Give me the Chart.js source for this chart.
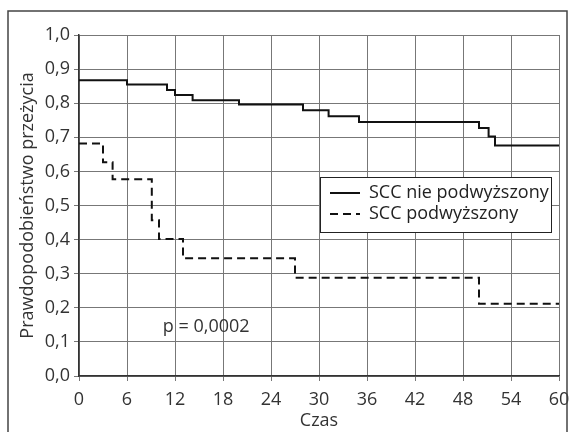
<!DOCTYPE html>
<html lang="pl">
<head>
<meta charset="UTF-8">
<title>Krzywe przeżycia</title>
<script src="https://cdn.jsdelivr.net/npm/chart.js"></script>
<style>
  html, body { margin: 0; padding: 0; background: #fff; }
  #wrap { width: 573px; height: 432px; position: relative; }
</style>
</head>
<body>
<div id="wrap"><canvas id="survChart" width="573" height="432"></canvas></div>
<script>
  // czas (miesiące) i prawdopodobieństwo przeżycia
  const timeNormal = [0, 6, 11, 12, 14.2, 20, 28, 31.2, 35, 50, 51.2, 52, 60];
  const survNormal = [0.867, 0.855, 0.839, 0.824, 0.809, 0.796, 0.779, 0.762, 0.745, 0.727, 0.702, 0.676, 0.676];
  const timeHigh = [0, 3, 4.2, 9.1, 10, 13, 27, 50, 60];
  const survHigh = [0.682, 0.627, 0.577, 0.457, 0.402, 0.345, 0.288, 0.212, 0.212];
  const xTicks = [0, 6, 12, 18, 24, 30, 36, 42, 48, 54, 60];
  const yTicks = [0, 0.1, 0.2, 0.3, 0.4, 0.5, 0.6, 0.7, 0.8, 0.9, 1.0];
  const labels = ['SCC nie podwyższony', 'SCC podwyższony'];
  const pText = 'p = 0,0002';

  const FONT = '"Open Sans", "Noto Sans", sans-serif';
  const FS = 18;
  const toPts = (t, s) => t.map((v, i) => ({ x: v, y: s[i] }));

  // ramka, legenda w polu wykresu i tekst p
  const extras = {
    id: 'extras',
    afterDraw(chart) {
      const ctx = chart.ctx;
      const xs = chart.scales.x, ys = chart.scales.y;
      ctx.save();
      // zewnętrzna ramka
      ctx.strokeStyle = '#444';
      ctx.lineWidth = 1.5;
      ctx.beginPath();
      ctx.moveTo(8, 445); ctx.lineTo(8, 11); ctx.lineTo(567, 11); ctx.lineTo(567, 445);
      ctx.stroke();

      // p
      ctx.fillStyle = '#333';
      ctx.font = FS + 'px ' + FONT;
      ctx.textAlign = 'center';
      ctx.textBaseline = 'middle';
      ctx.fillText(pText, xs.getPixelForValue(15.9), ys.getPixelForValue(0.144));

      // legenda
      const lx = 320, ly = 177, lw = 231, lh = 55;
      ctx.fillStyle = '#fff';
      ctx.fillRect(lx, ly, lw, lh);
      ctx.strokeStyle = '#222';
      ctx.lineWidth = 1;
      ctx.strokeRect(lx + 0.5, ly + 0.5, lw, lh);
      chart.data.datasets.forEach((ds, i) => {
        const yy = ly + 16 + i * 21;
        ctx.strokeStyle = ds.borderColor;
        ctx.lineWidth = 2;
        ctx.setLineDash(ds.borderDash || []);
        ctx.beginPath();
        ctx.moveTo(lx + 10, yy); ctx.lineTo(lx + 40, yy);
        ctx.stroke();
        ctx.setLineDash([]);
        ctx.fillStyle = '#222';
        ctx.textAlign = 'left';
        ctx.fillText(ds.label, lx + 49, yy);
      });
      ctx.restore();
    }
  };

  new Chart(document.getElementById('survChart'), {
    type: 'line',
    data: {
      datasets: [
        {
          label: labels[0],
          data: toPts(timeNormal, survNormal),
          stepped: true,
          borderColor: '#111',
          borderWidth: 2,
          pointRadius: 0,
          fill: false
        },
        {
          label: labels[1],
          data: toPts(timeHigh, survHigh),
          stepped: true,
          borderColor: '#111',
          borderWidth: 2,
          borderDash: [8, 5],
          pointRadius: 0,
          fill: false
        }
      ]
    },
    options: {
      responsive: false,
      animation: false,
      layout: { padding: { top: 35, right: 14, left: 17, bottom: 0 } },
      plugins: { legend: { display: false }, tooltip: { enabled: false } },
      scales: {
        x: {
          type: 'linear',
          min: 0, max: 60,
          afterBuildTicks: s => { s.ticks = xTicks.map(v => ({ value: v })); },
          afterFit: s => { s.height = 56; s.paddingLeft = 0; s.paddingRight = 0; },
          ticks: { color: '#333', font: { family: FONT, size: FS }, padding: 8, maxRotation: 0 },
          grid: { color: '#777', lineWidth: 1, tickLength: 5 },
          border: { color: '#333', width: 1.5 },
          title: { display: true, text: 'Czas', color: '#333', font: { family: FONT, size: FS }, padding: { top: 0, bottom: 0 } }
        },
        y: {
          min: 0, max: 1,
          afterBuildTicks: s => { s.ticks = yTicks.map(v => ({ value: v })); },
          afterFit: s => { s.width = 62; s.paddingTop = 0; s.paddingBottom = 0; },
          ticks: {
            color: '#333', font: { family: FONT, size: FS }, padding: 4,
            callback: v => v.toFixed(1).replace('.', ',')
          },
          grid: { color: '#777', lineWidth: 1, tickLength: 5 },
          border: { color: '#333', width: 1.5 },
          title: { display: true, text: 'Prawdopodobieństwo przeżycia', color: '#333', font: { family: FONT, size: FS }, padding: 0 }
        }
      }
    },
    plugins: [extras]
  });
</script>
</body>
</html>
